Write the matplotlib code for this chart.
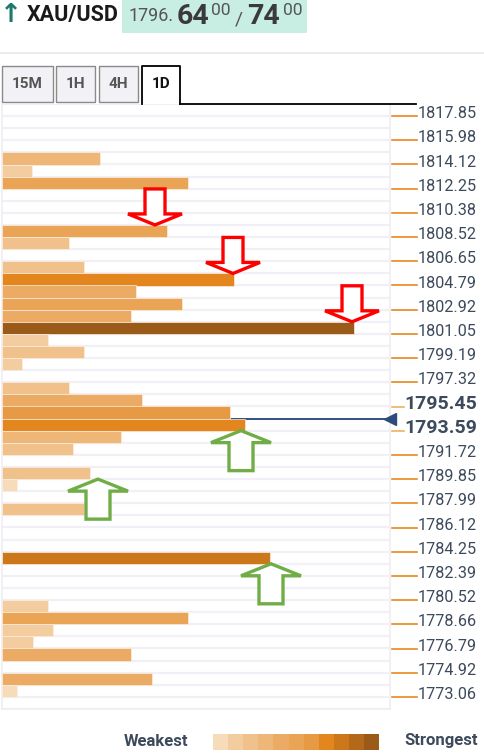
import numpy as np
import matplotlib.pyplot as plt
from matplotlib.patches import Polygon, Rectangle
from matplotlib.transforms import Affine2D
from matplotlib.lines import Line2D

plt.rcParams['font.family'] = ['Roboto', 'DejaVu Sans']

# ----------------------------
# Data
# ----------------------------
tick_prices = [1817.85, 1815.98, 1814.12, 1812.25, 1810.38, 1808.52, 1806.65,
               1804.79, 1802.92, 1801.05, 1799.19, 1797.32, 1795.45, 1793.59,
               1791.72, 1789.85, 1787.99, 1786.12, 1784.25, 1782.39, 1780.52,
               1778.66, 1776.79, 1774.92, 1773.06]
bold_ticks = [1795.45, 1793.59]

bar_levels = [1814.58, 1813.65, 1812.72, 1808.99, 1808.05, 1806.19, 1805.25,
              1804.32, 1803.39, 1802.45, 1801.52, 1800.59, 1799.65, 1798.72,
              1796.85, 1795.92, 1794.99, 1794.06, 1793.12, 1792.19, 1790.32,
              1789.39, 1787.52, 1783.79, 1780.06, 1779.13, 1778.19, 1777.26,
              1776.33, 1774.46, 1773.53]
bar_strength = [98, 30, 186, 165, 67, 82, 232,
                134, 180, 129, 352, 46, 82, 20,
                67, 140, 228, 243, 119, 71, 88,
                15, 82, 268, 46, 186, 51, 31,
                129, 150, 15]

current_price = 1794.52

resistance_levels = [1808.99, 1805.25, 1801.52]
resistance_x = [153, 231, 350]
support_levels = [1794.06, 1790.32, 1783.79]
support_x = [239, 96, 269]

tabs = ["15M", "1H", "4H", "1D"]
active_tab = "1D"

palette = ["#f6dcbb", "#f3cc9f", "#f0c18b", "#eeb778", "#ecab64", "#e9a456",
           "#e69a44", "#e3861e", "#cc7719", "#b3681a", "#9b5b18"]

# ----------------------------
# Figure and chart axes
# ----------------------------
W, H = 484, 756
fig = plt.figure(figsize=(W / 100, H / 100), dpi=100)
pix = Affine2D().scale(1 / W, -1 / H).translate(0, 1) + fig.transFigure

step = (tick_prices[0] - tick_prices[-1]) / (len(tick_prices) - 1)
row = step / 2
y_top = tick_prices[0] + row
y_bot = tick_prices[-1] - row

ax = fig.add_axes([2 / W, 1 - 709 / H, 388 / W, 605 / H])
ax.set_xlim(0, 388)
ax.set_ylim(y_bot, y_top)
ax.set_xticks([])
ax.set_yticks([])
for side in ["left", "right", "bottom"]:
    ax.spines[side].set_color("#eeeef3")
    ax.spines[side].set_linewidth(1.2)
ax.spines["top"].set_visible(False)

# row separators
for yb in np.arange(y_bot, y_top + row / 2, row):
    ax.axhline(yb, color="#f0f0f6", lw=1.6, zorder=1)

vmax = max(bar_strength)
colors = [palette[int(round(v / vmax * 10))] for v in bar_strength]
ax.barh(bar_levels, bar_strength, height=row, left=0, color=colors,
        edgecolor="#fbeee0", lw=0.5, zorder=3)

# current price marker
ax.axhline(current_price, color="#34507f", lw=1.4, zorder=2)
ax.plot([1.0], [current_price], transform=ax.get_yaxis_transform(), marker="<",
        ms=8, color="#2f4b7c", clip_on=False, zorder=5)

# price labels on the right
yt = ax.get_yaxis_transform()
for p in tick_prices:
    bold = p in bold_ticks
    x1 = 1.036 if bold else 1.0696
    ax.add_line(Line2D([1.0052, x1], [p, p], transform=yt, color="#f0b060" if bold else "#e8891d",
                       lw=1.2, clip_on=False))
    ax.annotate(f"{p:.2f}", xy=((477 - 2) / 388, p), xycoords=yt, xytext=(0, -1.5),
                textcoords="offset points", ha="right", va="baseline",
                fontsize=14 if bold else 11.7, fontweight="bold" if bold else "normal",
                color="#3d4a5c", annotation_clip=False)


def to_px(x, y):
    return pix.inverted().transform(ax.transData.transform((x, y)))


def hollow_arrow(tip, down, color, hw, sw, hh, length):
    s = -1 if down else 1
    tx, ty = tip
    pts = [(0, 0), (-hw, hh), (-sw, hh), (-sw, length), (sw, length), (sw, hh), (hw, hh)]
    pts = [(tx + px, ty + s * py) for px, py in pts]
    fig.add_artist(Polygon(pts, closed=True, facecolor="white", edgecolor=color, lw=2.4,
                           joinstyle="miter", transform=pix, zorder=6))


for lvl, x in zip(resistance_levels, resistance_x):
    hollow_arrow(to_px(x, lvl + row / 2), True, "#ff0000", 27, 10, 11, 36)
for lvl, x in zip(support_levels, support_x):
    hollow_arrow(to_px(x, lvl - row / 2), False, "#70ad47", 30, 12, 12, 40)

# ----------------------------
# Header
# ----------------------------
fig.text(11, 15, "\u2191", transform=pix, ha="center", va="center", fontsize=19,
         fontweight="bold", color="#1d7a6a", family="DejaVu Sans")
fig.text(27, 15, "XAU/USD", transform=pix, ha="left", va="center", fontsize=15.5,
         fontweight="bold", color="#1a1a1a")
fig.add_artist(Rectangle((122, 0), 185, 33, transform=pix, facecolor="#c8ede3",
                         edgecolor="none"))
fig.text(128, 21, "1796.", transform=pix, ha="left", va="baseline", fontsize=13, color="#555555")
fig.text(177, 24, "64", transform=pix, ha="left", va="baseline", fontsize=20.5,
         fontweight="bold", color="#3a3a3a")
fig.text(211, 15, "00", transform=pix, ha="left", va="baseline", fontsize=12.5, color="#555555")
fig.text(235, 24, "/", transform=pix, ha="left", va="baseline", fontsize=14, color="#555555")
fig.text(247, 24, "74", transform=pix, ha="left", va="baseline", fontsize=20.5,
         fontweight="bold", color="#3a3a3a")
fig.text(283, 15, "00", transform=pix, ha="left", va="baseline", fontsize=12.5, color="#555555")

fig.add_artist(Line2D([0, W], [53, 53], transform=pix, color="#e6e6ee", lw=1.2))

# tabs
tab_x = [(2, 53), (56, 95), (99, 138), (142, 180)]
for name, (x0, x1) in zip(tabs, tab_x):
    if name == active_tab:
        fig.add_artist(Line2D([x0, x0, x1, x1], [104, 66, 66, 104], transform=pix,
                              color="black", lw=1.3))
        col = "#111111"
    else:
        fig.add_artist(Rectangle((x0, 66), x1 - x0, 36, transform=pix, facecolor="#f2f2f6",
                                 edgecolor="#8a8a8a", lw=1.0))
        col = "#555555"
    fig.text((x0 + x1) / 2, 84, name, transform=pix, ha="center", va="center",
             fontsize=11, fontweight="bold", color=col)
fig.add_artist(Line2D([180, 416], [104, 104], transform=pix, color="black", lw=1.3))

# ----------------------------
# Legend
# ----------------------------
fig.text(188, 741, "Weakest", transform=pix, ha="right", va="center", fontsize=12,
         fontweight="bold", color="#3d4a5c")
for i, c in enumerate(palette):
    fig.add_artist(Rectangle((213 + i * 15.1, 734), 15.1, 16, transform=pix,
                             facecolor=c, edgecolor="none"))
fig.text(404, 741, "Strongest", transform=pix, ha="left", va="center", fontsize=12,
         fontweight="bold", color="#3d4a5c")

fig.savefig("out.png", dpi=100)
